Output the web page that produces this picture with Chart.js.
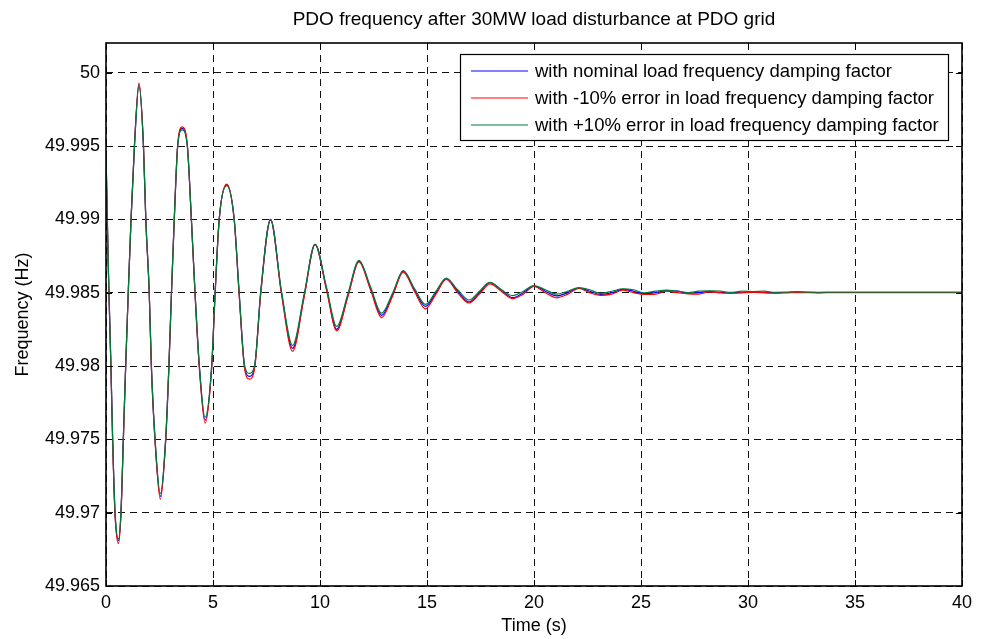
<!DOCTYPE html>
<html>
<head>
<meta charset="utf-8">
<script src="https://cdn.jsdelivr.net/npm/chart.js@4.4.1/dist/chart.umd.min.js"></script>
<style>
  html, body { margin: 0; padding: 0; background: #fff; }
  #wrap { width: 981px; height: 639px; }
</style>
</head>
<body>
<div id="wrap"><canvas id="freqChart" width="981" height="639"></canvas></div>
<script>
// time (s), with the three frequency traces (Hz)
const time = [0, 0.10, 0.23, 0.31, 0.42, 0.58, 0.70, 0.81, 0.92, 1.04, 1.17, 1.33, 1.54, 1.75, 1.86, 2.02, 2.12, 2.29, 2.54, 2.79,
  2.94, 3.06, 3.19, 3.35, 3.56, 3.80, 3.99, 4.16, 4.36, 4.63, 4.94, 5.10, 5.29, 5.64, 5.99, 6.22, 6.47, 6.70, 6.95, 7.23,
  7.69, 8.20, 8.72, 9.26, 9.77, 10.30, 10.78, 11.30, 11.82, 12.36, 12.88, 13.40, 13.89, 14.41, 14.93, 15.42, 15.90, 16.43, 16.96, 17.45,
  17.94, 18.47, 19.00, 19.50, 20.00, 20.53, 21.05, 21.58, 22.10, 22.60, 23.10, 23.63, 24.15, 24.65, 25.15, 25.68, 26.20, 26.70, 27.20, 27.70,
  28.20, 28.70, 29.20, 29.72, 30.25, 30.75, 31.25, 31.78, 32.30, 32.80, 33.30, 34.0, 35.0, 37.5, 40.0];

const nominal = [49.9946, 49.9872, 49.9800, 49.9750, 49.9700, 49.9681, 49.9700, 49.9750, 49.9800, 49.9850, 49.9900, 49.9950, 49.9992, 49.9950, 49.9900, 49.9850, 49.9800, 49.9750, 49.9711, 49.9750,
  49.9800, 49.9850, 49.9900, 49.9950, 49.9962, 49.9950, 49.9900, 49.9850, 49.9800, 49.9763, 49.9800, 49.9850, 49.9900, 49.99235, 49.9900, 49.9850, 49.9800, 49.9793, 49.9800, 49.9850,
  49.98997, 49.9850, 49.9812, 49.9848, 49.9883, 49.9853, 49.9825, 49.9848, 49.98715, 49.9853, 49.98345, 49.9849, 49.98647, 49.9852, 49.98407, 49.9850, 49.98595, 49.9851, 49.98436, 49.9850,
  49.98568, 49.9852, 49.98466, 49.9850, 49.98545, 49.9851, 49.98478, 49.9850, 49.98532, 49.9851, 49.98488, 49.9850, 49.98522, 49.9851, 49.98493, 49.9850, 49.98514, 49.9851, 49.98496, 49.9850,
  49.98509, 49.9850, 49.98498, 49.9850, 49.98506, 49.9850, 49.98499, 49.98501, 49.98504, 49.98502, 49.98501, 49.98502, 49.98502, 49.98502, 49.98502];

const minus10 = [49.9946, 49.9871, 49.9799, 49.9749, 49.9699, 49.9679, 49.9699, 49.9749, 49.9800, 49.9850, 49.9900, 49.9951, 49.9993, 49.9951, 49.9900, 49.9850, 49.9799, 49.9749, 49.9709, 49.9749,
  49.9799, 49.9850, 49.9900, 49.9951, 49.9963, 49.9951, 49.9900, 49.9849, 49.9799, 49.9761, 49.9799, 49.9849, 49.9900, 49.9924, 49.9900, 49.9849, 49.9799, 49.9791, 49.9799, 49.9849,
  49.9900, 49.9849, 49.9810, 49.9847, 49.9883, 49.9852, 49.9824, 49.9847, 49.9871, 49.9852, 49.9833, 49.9848, 49.9864, 49.9851, 49.9839, 49.9849, 49.9859, 49.9850, 49.9843, 49.9849,
  49.9856, 49.9851, 49.9846, 49.9849, 49.98543, 49.9850, 49.98465, 49.9849, 49.98530, 49.9850, 49.98482, 49.9849, 49.98518, 49.9850, 49.98488, 49.9849, 49.98510, 49.9850, 49.98492, 49.9849,
  49.98505, 49.9850, 49.98495, 49.9850, 49.98502, 49.9850, 49.98497, 49.9850, 49.98500, 49.9850, 49.98499, 49.9850, 49.9850, 49.9850, 49.9850];

const plus10 = [49.9946, 49.9873, 49.9801, 49.9751, 49.9702, 49.9682, 49.9701, 49.9751, 49.9801, 49.9851, 49.9900, 49.9950, 49.9991, 49.9950, 49.9900, 49.9851, 49.9801, 49.9751, 49.9713, 49.9751,
  49.9801, 49.9851, 49.9900, 49.9950, 49.9961, 49.9950, 49.9900, 49.9851, 49.9801, 49.9765, 49.9801, 49.9851, 49.9900, 49.9923, 49.9900, 49.9851, 49.9801, 49.9795, 49.9801, 49.9851,
  49.9900, 49.9851, 49.9814, 49.9849, 49.9883, 49.9854, 49.9827, 49.9849, 49.9872, 49.9854, 49.9836, 49.9850, 49.9865, 49.9853, 49.9842, 49.9851, 49.9860, 49.9852, 49.9845, 49.9851,
  49.9857, 49.9852, 49.9848, 49.9851, 49.98548, 49.9852, 49.98490, 49.9851, 49.98535, 49.9852, 49.98495, 49.9851, 49.98526, 49.9852, 49.98499, 49.9851, 49.98518, 49.9851, 49.98501, 49.9851,
  49.98512, 49.9851, 49.98502, 49.9851, 49.98508, 49.9851, 49.98503, 49.98504, 49.98507, 49.98504, 49.98503, 49.98503, 49.98503, 49.98503, 49.98503];

const xTicks = [0, 5, 10, 15, 20, 25, 30, 35, 40];
const yTicks = [49.965, 49.97, 49.975, 49.98, 49.985, 49.99, 49.995, 50];
const yTickLabels = ["49.965", "49.97", "49.975", "49.98", "49.985", "49.99", "49.995", "50"];

const chartTitle = "PDO frequency after 30MW load disturbance at PDO grid";
const seriesNames = [
  "with nominal load frequency damping factor",
  "with -10% error in load frequency damping factor",
  "with +10% error in load frequency damping factor"
];

const FONT = "'Liberation Sans', Arial, Helvetica, sans-serif";

function pts(values) {
  return time.map((t, i) => ({ x: t, y: values[i] }));
}

// title over the axes, frame, inward tick marks and the legend box inside the axes
const matlabBits = {
  id: "matlabBits",
  afterDraw(chart) {
    const { ctx, chartArea: a, scales } = chart;
    ctx.save();
    ctx.fillStyle = "#000";
    ctx.font = "19px " + FONT;
    ctx.textAlign = "center";
    ctx.textBaseline = "middle";
    ctx.fillText(chartTitle, (a.left + a.right) / 2, 20);

    ctx.strokeStyle = "#000";
    ctx.lineWidth = 1;
    ctx.setLineDash([]);
    ctx.beginPath();
    xTicks.forEach(v => {
      const px = Math.round(scales.x.getPixelForValue(v)) + 0.5;
      ctx.moveTo(px, a.bottom); ctx.lineTo(px, a.bottom - 6);
      ctx.moveTo(px, a.top); ctx.lineTo(px, a.top + 6);
    });
    yTicks.forEach(v => {
      const py = Math.round(scales.y.getPixelForValue(v)) + 0.5;
      ctx.moveTo(a.left, py); ctx.lineTo(a.left + 6, py);
      ctx.moveTo(a.right, py); ctx.lineTo(a.right - 6, py);
    });
    ctx.stroke();
    ctx.lineWidth = 1.6;
    ctx.strokeRect(a.left, a.top, a.right - a.left, a.bottom - a.top);

    // legend
    const lx = 460, ly = 54, lw = 488, lh = 86;
    ctx.fillStyle = "#fff";
    ctx.fillRect(lx, ly, lw, lh);
    ctx.lineWidth = 1.2;
    ctx.strokeRect(lx + 0.5, ly + 0.5, lw, lh);
    ctx.font = "18.5px " + FONT;
    ctx.textAlign = "left";
    ctx.textBaseline = "middle";
    chart.data.datasets.forEach((ds, i) => {
      const y = ly + 17 + i * 27;
      ctx.strokeStyle = ds.borderColor;
      ctx.lineWidth = 1;
      ctx.beginPath();
      ctx.moveTo(lx + 11, y);
      ctx.lineTo(lx + 68, y);
      ctx.stroke();
      ctx.fillStyle = "#000";
      ctx.fillText(ds.label, lx + 75, y + 1);
    });
    ctx.restore();
  }
};

new Chart(document.getElementById("freqChart"), {
  type: "line",
  data: {
    datasets: [
      { label: seriesNames[0], data: pts(nominal), borderColor: "#0000ff", order: 3 },
      { label: seriesNames[1], data: pts(minus10), borderColor: "#ff0000", order: 2 },
      { label: seriesNames[2], data: pts(plus10), borderColor: "#007a3d", order: 1 }
    ]
  },
  options: {
    responsive: false,
    animation: false,
    layout: { padding: { left: 0, right: 19, top: 43, bottom: 0 } },
    elements: {
      line: { borderWidth: 1.2, cubicInterpolationMode: "monotone", fill: false },
      point: { radius: 0 }
    },
    plugins: {
      legend: { display: false },
      tooltip: { enabled: false },
      title: { display: false }
    },
    scales: {
      x: {
        type: "linear",
        min: 0,
        max: 40,
        afterBuildTicks: s => { s.ticks = xTicks.map(v => ({ value: v })); },
        afterFit: s => { s.height = 53; },
        ticks: { color: "#000", font: { family: FONT, size: 18 }, padding: 6, maxRotation: 0 },
        grid: { color: "#111", lineWidth: 1, drawTicks: false },
        border: { display: false, dash: [7, 5] },
        title: { display: true, text: "Time (s)", color: "#000", font: { family: FONT, size: 18 }, padding: { top: 0, bottom: 2 } }
      },
      y: {
        type: "linear",
        min: 49.965,
        max: 50.002025,
        afterBuildTicks: s => { s.ticks = yTicks.map(v => ({ value: v })); },
        afterFit: s => { s.width = 106; },
        ticks: {
          color: "#000",
          font: { family: FONT, size: 18 },
          padding: 6,
          callback: (v) => {
            const i = yTicks.findIndex(t => Math.abs(t - v) < 1e-7);
            return i >= 0 ? yTickLabels[i] : "";
          }
        },
        grid: { color: "#111", lineWidth: 1, drawTicks: false },
        border: { display: false, dash: [7, 5] },
        title: { display: true, text: "Frequency (Hz)", color: "#000", font: { family: FONT, size: 18 }, padding: { top: 12, bottom: 0 } }
      }
    }
  },
  plugins: [matlabBits]
});
</script>
</body>
</html>
